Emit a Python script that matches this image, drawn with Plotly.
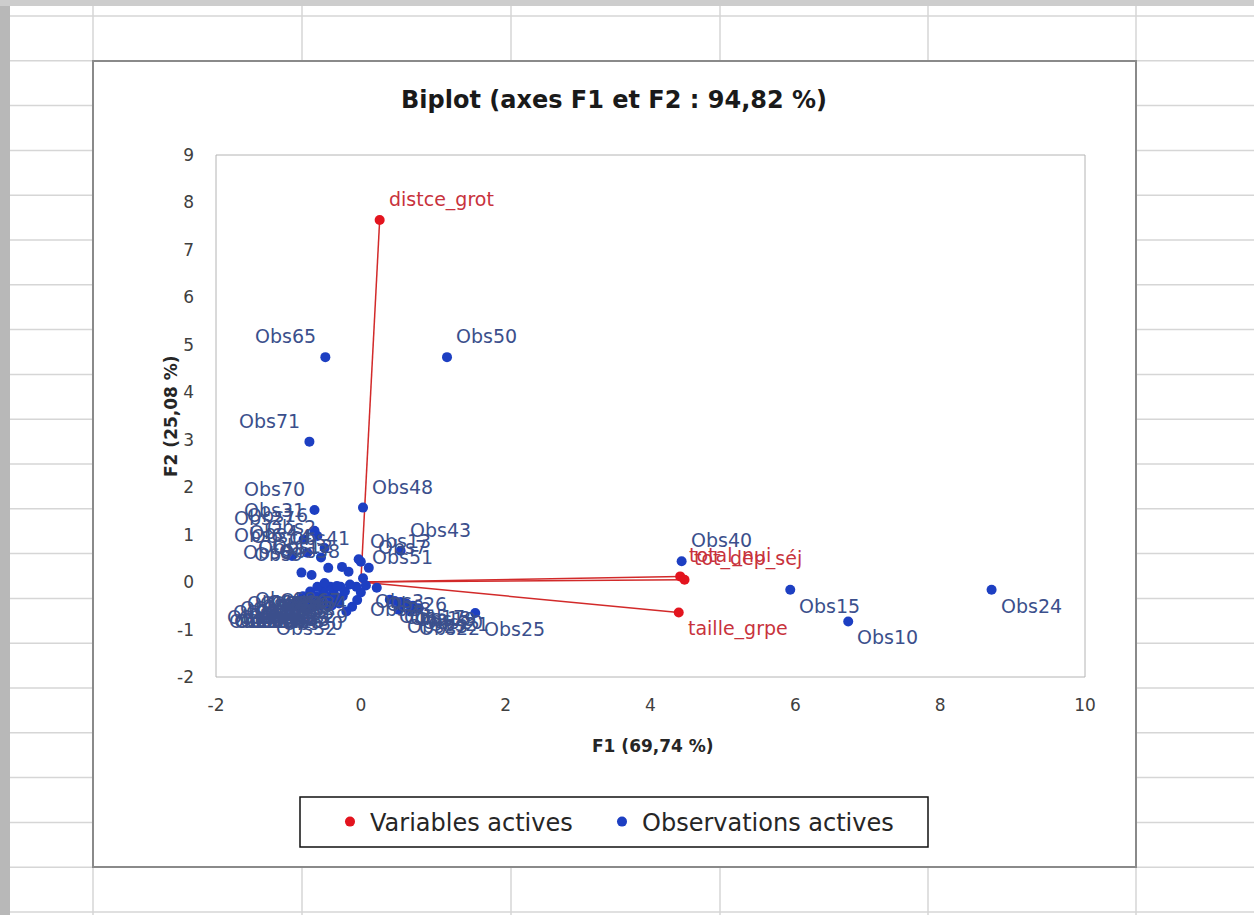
import plotly.graph_objects as go

W, H = 1254, 915

# ---------------- data ----------------
obs_names = [
    "Obs10", "Obs15", "Obs24", "Obs25", "Obs40", "Obs43", "Obs48", "Obs50", "Obs65", "Obs70", "Obs71",
    "Obs31", "Obs27", "Obs16", "Obs41", "Obs38", "Obs7", "Obs51", "Obs2", "Obs4", "Obs6", "Obs8",
    "Obs9", "Obs11", "Obs12", "Obs13", "Obs14",
    "Obs3", "Obs5", "Obs17", "Obs18", "Obs19", "Obs20", "Obs21", "Obs22", "Obs23", "Obs26",
    "Obs28", "Obs29", "Obs30", "Obs32", "Obs33", "Obs34",
    "Obs1", "Obs35", "Obs36", "Obs37", "Obs39", "Obs42", "Obs44", "Obs45", "Obs46", "Obs47",
    "Obs49", "Obs52", "Obs53", "Obs54", "Obs55", "Obs56", "Obs57", "Obs58", "Obs59", "Obs60",
    "Obs61", "Obs62", "Obs63", "Obs64", "Obs66", "Obs67", "Obs68", "Obs69",
]
obs_f1 = [
    6.73, 5.93, 8.71, 1.58, 4.43, 0.55, 0.03, 1.19, -0.49, -0.64, -0.71,
    -0.64, -0.79, -0.60, -0.03, -0.17, 0.11, 0.03, -0.50, -0.74, -0.95, -0.82,
    -0.68, -0.45, -0.26, 0.00, -0.55,
    0.07, 0.40, 0.47, 0.55, 0.63, 0.72, 0.80, 0.68, 0.52, 0.22,
    0.00, -0.05, -0.12, -0.20, -0.30, -0.06,
    -0.93, -0.85, -0.78, -0.70, -0.62, -0.55, -0.47, -0.40, -0.88, -0.72,
    -0.58, -0.45, -0.33, -0.80, -0.62, -0.48, -0.35, -0.25, -0.70, -0.52,
    -0.38, -0.22, -0.60, -0.42, -0.28, -0.15, -0.50, -0.33,
]
obs_f2 = [
    -0.83, -0.16, -0.16, -0.65, 0.44, 0.66, 1.57, 4.74, 4.74, 1.52, 2.96,
    1.08, 0.90, 0.97, 0.48, 0.22, 0.30, 0.08, 0.72, 0.62, 0.55, 0.20,
    0.15, 0.30, 0.32, 0.43, 0.52,
    -0.07, -0.37, -0.40, -0.42, -0.45, -0.50, -0.55, -0.62, -0.58, -0.12,
    -0.22, -0.38, -0.52, -0.62, -0.45, -0.10,
    -0.49, -0.49, -0.49, -0.49, -0.49, -0.49, -0.49, -0.49, -0.40, -0.40,
    -0.40, -0.40, -0.40, -0.30, -0.30, -0.30, -0.30, -0.30, -0.20, -0.20,
    -0.20, -0.20, -0.10, -0.10, -0.10, -0.05, -0.02, -0.08,
]

var_names = ["distce_grot", "total_nui", "tot_dep_séj", "taille_grpe"]
var_f1 = [0.26, 4.41, 4.47, 4.39]
var_f2 = [7.63, 0.12, 0.05, -0.64]

x_range = [-2, 10]
y_range = [-2, 9]
x_tickvals = [-2, 0, 2, 4, 6, 8, 10]
x_ticktext = ["-2", "0", "2", "4", "6", "8", "10"]
y_tickvals = [-2, -1, 0, 1, 2, 3, 4, 5, 6, 7, 8, 9]
y_ticktext = ["-2", "-1", "0", "1", "2", "3", "4", "5", "6", "7", "8", "9"]

title_text = "Biplot (axes F1 et F2 : 94,82 %)"
xtitle_text = "F1 (69,74 %)"
ytitle_text = "F2 (25,08 %)"

# ---------------- styling ----------------
BLUE = "#1d3fc2"
BLUE_TXT = "#3b4f8c"
RED = "#e3141e"
RED_LINE = "#d22a2a"
RED_TXT = "#c8323c"
LBL_FONT = "DejaVu Sans"

PL, PR, PT, PB = 216, 1085, 155, 677  # plot area in px


def px(x):
    return x / W


def py(y):
    return 1 - y / H


xdom = [px(PL), px(PR)]
ydom = [py(PB), py(PT)]
x_zero = xdom[0] + (0 - x_range[0]) / (x_range[1] - x_range[0]) * (xdom[1] - xdom[0])
y_zero = ydom[0] + (0 - y_range[0]) / (y_range[1] - y_range[0]) * (ydom[1] - ydom[0])

fig = go.Figure()

# variable vectors
for n, a, b in zip(var_names, var_f1, var_f2):
    fig.add_trace(go.Scatter(x=[0, a], y=[0, b], mode="lines",
                             line=dict(color=RED_LINE, width=1.5),
                             showlegend=False, hoverinfo="skip"))

fig.add_trace(go.Scatter(x=var_f1, y=var_f2, mode="markers", name="Variables actives",
                         marker=dict(color=RED, size=10), text=var_names, legend="legend"))
fig.add_trace(go.Scatter(x=obs_f1, y=obs_f2, mode="markers", name="Observations actives",
                         marker=dict(color=BLUE, size=10), text=obs_names, legend="legend2"))

annotations = []


def add_labels(names, xs, ys, color):
    for n, a, b in zip(names, xs, ys):
        right = a >= 0
        up = b >= 0
        annotations.append(dict(
            x=a, y=b, xref="x", yref="y", text=n, showarrow=False,
            xanchor="left" if right else "right", yanchor="middle",
            xshift=7 if right else -7, yshift=21 if up else -16,
            font=dict(family=LBL_FONT, size=19, color=color)))


add_labels(obs_names, obs_f1, obs_f2, BLUE_TXT)
add_labels(var_names, var_f1, var_f2, RED_TXT)

annotations.append(dict(x=px(614), y=py(100), xref="paper", yref="paper", text=title_text,
                        showarrow=False, xanchor="center", yanchor="middle",
                        font=dict(family="DejaVu Sans", size=24, color="#1a1a1a", weight="bold")))
annotations.append(dict(x=px(653), y=py(746), xref="paper", yref="paper", text=xtitle_text,
                        showarrow=False, xanchor="center", yanchor="middle",
                        font=dict(family="DejaVu Sans", size=17, color="#262626", weight="bold")))
annotations.append(dict(x=px(171), y=py(416), xref="paper", yref="paper", text=ytitle_text,
                        showarrow=False, xanchor="center", yanchor="middle", textangle=-90,
                        font=dict(family="DejaVu Sans", size=17, color="#262626", weight="bold")))

shapes = []
# spreadsheet background
for k in range(21):
    yy = 16 + 44.8 * k
    shapes.append(dict(type="line", xref="paper", yref="paper", x0=px(10), x1=1,
                       y0=py(yy), y1=py(yy), line=dict(color="#d6d6d6", width=1.5), layer="below"))
for xx in [93, 302, 511, 720, 928, 1136]:
    shapes.append(dict(type="line", xref="paper", yref="paper", x0=px(xx), x1=px(xx),
                       y0=0, y1=py(6), line=dict(color="#d6d6d6", width=1.5), layer="below"))
shapes.append(dict(type="rect", xref="paper", yref="paper", x0=0, x1=px(10), y0=0, y1=1,
                   fillcolor="#b8b8b8", line=dict(width=0), layer="below"))
shapes.append(dict(type="rect", xref="paper", yref="paper", x0=0, x1=1, y0=py(6), y1=1,
                   fillcolor="#cdcdcd", line=dict(width=0), layer="below"))
# chart area
shapes.append(dict(type="rect", xref="paper", yref="paper", x0=px(93), x1=px(1136),
                   y0=py(867), y1=py(61), fillcolor="white",
                   line=dict(color="#8a8a8a", width=2), layer="below"))
# plot frame
shapes.append(dict(type="rect", xref="paper", yref="paper", x0=xdom[0], x1=xdom[1],
                   y0=ydom[0], y1=ydom[1], line=dict(color="#b4b4b4", width=1), layer="above"))
# legend frame
shapes.append(dict(type="rect", xref="paper", yref="paper", x0=px(300), x1=px(928),
                   y0=py(847), y1=py(797), line=dict(color="#111111", width=1.5), layer="above"))

axis_common = dict(showgrid=False, zeroline=False, showline=False, automargin=False,
                   fixedrange=True)

legend_common = dict(orientation="h", xanchor="left", y=py(822), yanchor="middle",
                     bgcolor="rgba(0,0,0,0)", borderwidth=0,
                     font=dict(family=LBL_FONT, size=24, color="#262626"), itemclick=False)

fig.update_layout(
    width=W, height=H, margin=dict(l=0, r=0, t=0, b=0),
    paper_bgcolor="white", plot_bgcolor="white",
    showlegend=True,
    legend=dict(x=px(330), **legend_common),
    legend2=dict(x=px(602), **legend_common),
    xaxis=dict(domain=xdom, range=x_range, tickvals=x_tickvals, ticktext=x_ticktext,
               ticks="", ticklabelstandoff=16,
               tickfont=dict(family=LBL_FONT, size=17, color="#404040"), **axis_common),
    yaxis=dict(domain=ydom, range=y_range, tickvals=y_tickvals, ticktext=y_ticktext,
               ticks="", ticklabelstandoff=21,
               tickfont=dict(family=LBL_FONT, size=17, color="#404040"), **axis_common),
    xaxis2=dict(overlaying="x", anchor="free", position=y_zero, range=x_range,
                tickvals=x_tickvals, showticklabels=False, ticks="outside", ticklen=7,
                tickcolor="#505050", showline=True, linecolor="#505050", linewidth=1,
                showgrid=False, zeroline=False, fixedrange=True),
    xaxis3=dict(overlaying="x", anchor="free", position=y_zero, range=x_range,
                tickvals=x_tickvals, showticklabels=False, ticks="inside", ticklen=7,
                tickcolor="#505050", showline=False,
                showgrid=False, zeroline=False, fixedrange=True),
    yaxis2=dict(overlaying="y", anchor="free", position=x_zero, range=y_range,
                tickvals=y_tickvals, showticklabels=False, ticks="outside", ticklen=7,
                tickcolor="#505050", showline=True, linecolor="#505050", linewidth=1,
                showgrid=False, zeroline=False, fixedrange=True),
    yaxis3=dict(overlaying="y", anchor="free", position=x_zero, range=y_range,
                tickvals=y_tickvals, showticklabels=False, ticks="inside", ticklen=7,
                tickcolor="#505050", showline=False,
                showgrid=False, zeroline=False, fixedrange=True),
    annotations=annotations,
    shapes=shapes,
    hovermode=False,
)

fig.write_html("out.html", config={"displayModeBar": False, "staticPlot": True},
               post_script="document.body.style.margin='0';document.body.style.overflow='hidden';")
